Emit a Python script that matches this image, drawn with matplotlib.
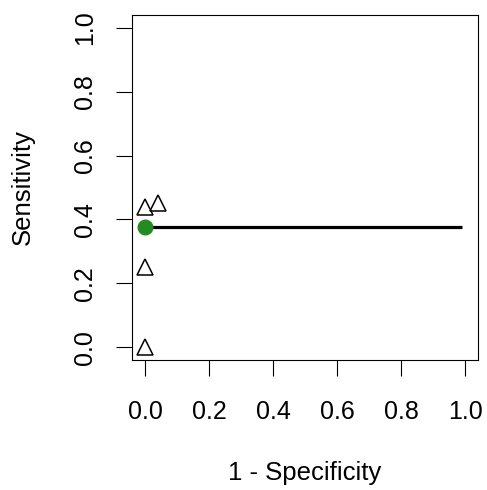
import matplotlib
matplotlib.use("Agg")
import matplotlib.pyplot as plt

# points of the ROC curve (1 - specificity, sensitivity)
fpr_pts = [0.0, 0.0, 0.0, 0.04]
tpr_pts = [0.0, 0.25, 0.4375, 0.45]

# best threshold point and horizontal line
best_fpr = [0.0]
best_tpr = [0.375]
line_x = [0.0, 0.99]
line_y = [0.375, 0.375]

ticks = [0.0, 0.2, 0.4, 0.6, 0.8, 1.0]
tick_labels = ["0.0", "0.2", "0.4", "0.6", "0.8", "1.0"]

plt.rcParams['font.family'] = ['Liberation Sans', 'DejaVu Sans']

fig = plt.figure(figsize=(4.87, 4.9), dpi=100)
ax = fig.add_axes([132.2 / 487, 130 / 490, 345.6 / 487, 345 / 490])

ax.plot(line_x, line_y, color='black', lw=2.3, solid_capstyle='butt', zorder=2)
ax.plot(fpr_pts, tpr_pts, linestyle='none', marker='^', ms=11, mfc='none',
        mec='black', mew=1.1, zorder=3)
ax.plot(best_fpr, best_tpr, linestyle='none', marker='o', ms=10.5,
        color='#228B22', zorder=4)

ax.set_xlim(-0.04, 1.04)
ax.set_ylim(-0.04, 1.04)
ax.set_xticks(ticks)
ax.set_xticklabels(tick_labels)
ax.set_yticks(ticks)
ax.set_yticklabels(tick_labels, rotation=90, va='center')

ax.tick_params(axis='both', direction='out', length=11.5, width=0.8,
               labelsize=18, color='black')
ax.tick_params(axis='x', pad=17)
ax.tick_params(axis='y', pad=14)
for s in ax.spines.values():
    s.set_linewidth(0.8)

ax.set_xlabel("1 - Specificity", fontsize=18.5, labelpad=27)
ax.set_ylabel("Sensitivity", fontsize=18.5, labelpad=27)

fig.savefig("out.png", dpi=100)
